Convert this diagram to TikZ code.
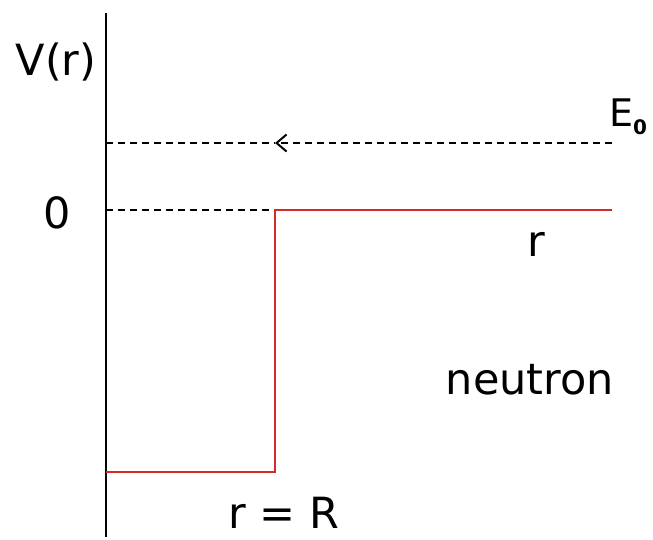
\documentclass[tikz,border=0pt]{standalone}
\usepackage{fontspec}
\setmainfont{DejaVu Sans}
\usetikzlibrary{arrows.meta,positioning}
\definecolor{wellred}{HTML}{D42A2A}

\begin{document}
\begin{tikzpicture}[x=1pt, y=-1pt,
  lbl/.style={inner sep=0pt, font=\fontsize{43}{45}\selectfont},
  axis/.style={line width=2.4pt, black},
  level/.style={line width=1.8pt, dash pattern=on 7pt off 5pt},
  pot/.style={line width=2.2pt, wellred},
  arr/.style={-{Straight Barb[length=10pt, width=17pt, line width=2pt]}}
]
  \useasboundingbox (0,0) rectangle (653,540);
  % axis and level points
  \coordinate (top) at (106,13);
  \coordinate (bot) at (106,537);
  \coordinate (eleft) at (106,143);
  \coordinate (emid) at (275,143);
  \coordinate (eright) at (612,143);
  \coordinate (zleft) at (106,210);
  \coordinate (edge) at (275,210);
  \coordinate (zright) at (612,210);
  \coordinate (wallbot) at (275,472);
  \coordinate (floor) at (106,472);
  % labels
  \node[lbl] (vr) at (56,62) {V(r)};
  \node[lbl] (zero) at (57,213) {0};
  \node[lbl, font=\fontsize{38}{40}\selectfont] (en) at (628,117) {E\raisebox{-0.2em}{\fontsize{20}{22}\selectfont\bfseries 0}};
  \node[lbl] (rr) at (536,244) {r};
  \node[lbl] (neutron) at (530,380) {neutron};
  \node[lbl] (rR) at (284,513) {r = R};
  % drawing
  \draw[axis] (top) -- (bot);
  \draw[level, arr] (eright) -- (emid);
  \draw[level] (eleft) -- (emid);
  \draw[level] (zleft) -- (edge);
  \draw[pot] (zright) -- (edge) -- (wallbot) -- (floor);
\end{tikzpicture}
\end{document}
